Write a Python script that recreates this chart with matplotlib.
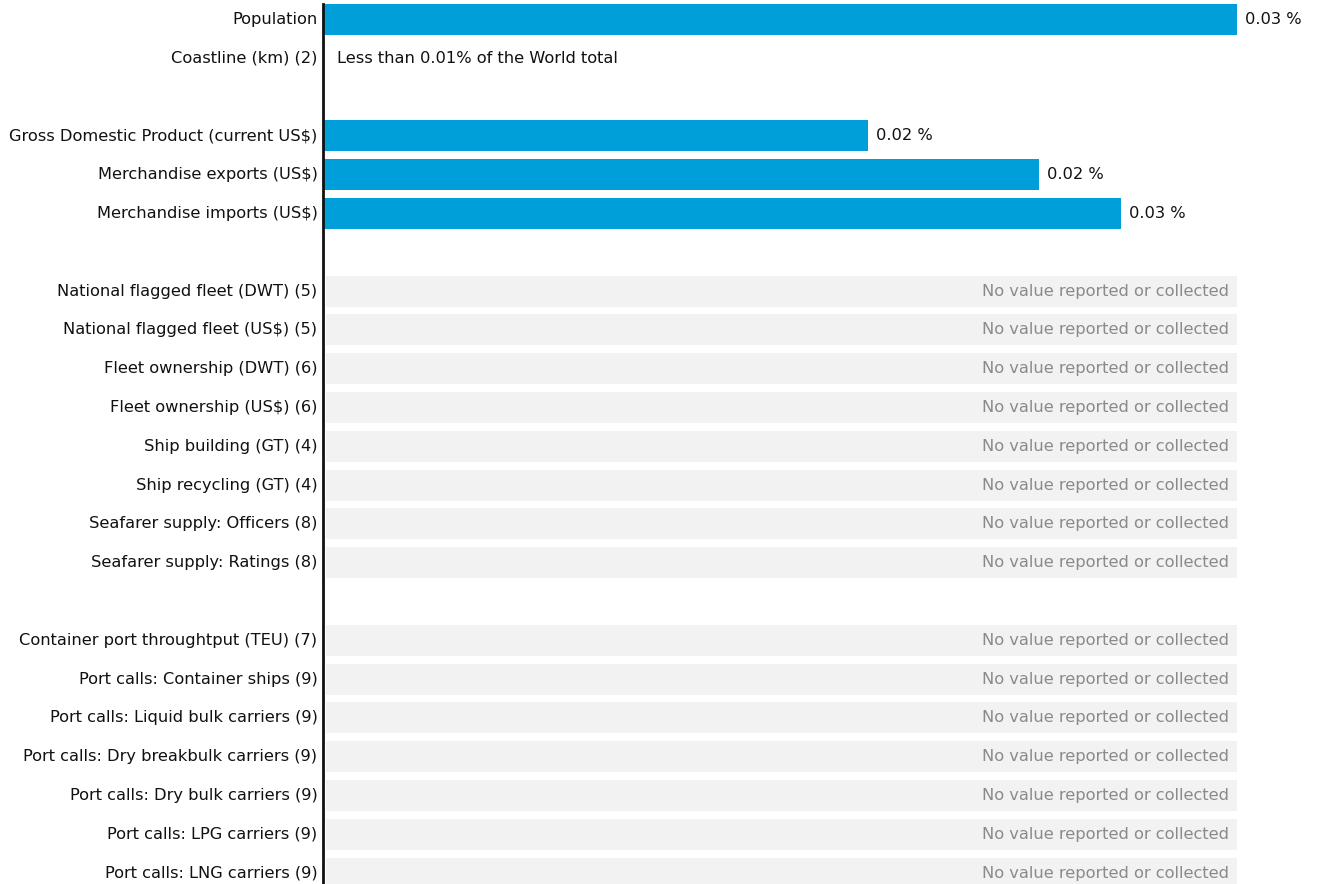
import matplotlib
matplotlib.use("Agg")
import matplotlib.pyplot as plt
from matplotlib.transforms import offset_copy

categories = [
    "Population", "Coastline (km) (2)", "",
    "Gross Domestic Product (current US$)", "Merchandise exports (US$)", "Merchandise imports (US$)", "",
    "National flagged fleet (DWT) (5)", "National flagged fleet (US$) (5)",
    "Fleet ownership (DWT) (6)", "Fleet ownership (US$) (6)",
    "Ship building (GT) (4)", "Ship recycling (GT) (4)",
    "Seafarer supply: Officers (8)", "Seafarer supply: Ratings (8)", "",
    "Container port throughtput (TEU) (7)", "Port calls: Container ships (9)",
    "Port calls: Liquid bulk carriers (9)", "Port calls: Dry breakbulk carriers (9)",
    "Port calls: Dry bulk carriers (9)", "Port calls: LPG carriers (9)",
    "Port calls: LNG carriers (9)",
]
# share of world total (%), None = no value, "lt" = less than 0.01%
values = [0.0300, "lt", "gap", 0.0179, 0.0235, 0.0262, "gap",
          None, None, None, None, None, None, None, None, "gap",
          None, None, None, None, None, None, None]
value_labels = ["0.03 %", "", "", "0.02 %", "0.02 %", "0.03 %"]

BLUE = "#009fda"
GREY_BG = "#f2f2f2"
GREY_TXT = "#8a8a8a"
FONT = "DejaVu Sans"
FS = 11.7

fig = plt.figure(figsize=(13.22, 8.84), dpi=100)
W, H = 1322, 884
ax = fig.add_axes([323 / W, 0, (1237 - 323) / W, (884 - 4) / H])
xmax = max(v for v in values if isinstance(v, float))
ax.set_xlim(0, xmax)
ax.set_ylim(22.28, -0.4)

for i, v in enumerate(values):
    if isinstance(v, float):
        ax.barh(i, v, height=0.8, color=BLUE, left=0)
        t = offset_copy(ax.transData, fig=fig, x=8, y=0, units="dots")
        ax.text(v, i, value_labels[i], transform=t, ha="left", va="center",
                fontsize=FS, family=FONT, color="#111111", clip_on=False)
    elif v is None:
        off = xmax * 3 / 914
        ax.barh(i, xmax - off, height=0.8, left=off, color=GREY_BG)
        t = offset_copy(ax.transData, fig=fig, x=-8, y=0, units="dots")
        ax.text(xmax, i, "No value reported or collected", transform=t,
                ha="right", va="center", fontsize=FS, family=FONT, color=GREY_TXT)
    elif v == "lt":
        t = offset_copy(ax.transData, fig=fig, x=14, y=0, units="dots")
        ax.text(0, i, "Less than 0.01% of the World total", transform=t,
                ha="left", va="center", fontsize=FS, family=FONT, color="#111111")

ax.set_yticks(range(len(categories)))
ax.set_yticklabels(categories, fontsize=FS, family=FONT, color="#111111", va="center")
ax.tick_params(axis="y", length=0, pad=4)
ax.set_xticks([])
for s in ["top", "right", "bottom"]:
    ax.spines[s].set_visible(False)
ax.spines["left"].set_linewidth(2)
ax.spines["left"].set_color("#111111")

fig.savefig("out.png", dpi=100)
